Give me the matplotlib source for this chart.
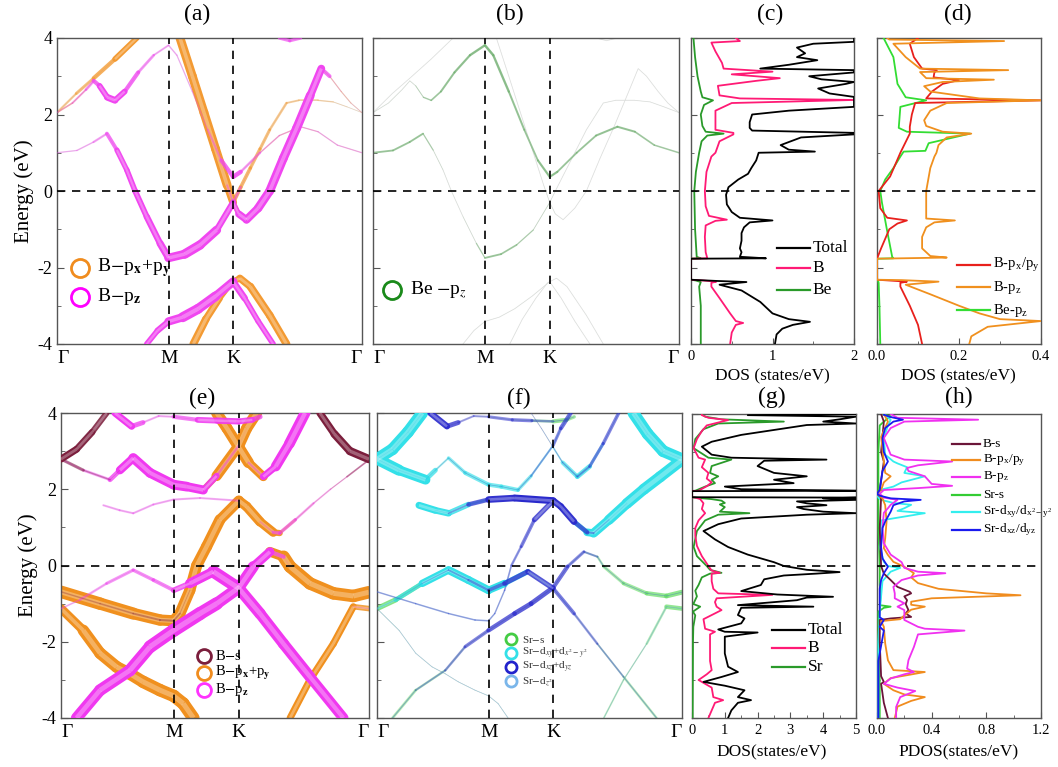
import numpy as np
import matplotlib
matplotlib.use("Agg")
import matplotlib.pyplot as plt
from matplotlib.collections import LineCollection
from matplotlib.colors import to_rgba
from matplotlib.ticker import MultipleLocator, FormatStrFormatter

plt.rcParams['font.family'] = ['Liberation Serif', 'DejaVu Serif']
plt.rcParams['mathtext.fontset'] = 'stix'
plt.rcParams['axes.unicode_minus'] = False

# ---------------- k-path ----------------
KPATH = [0.0, 0.5774, 0.9107, 1.5774]
KLAB = ['Γ', 'M', 'K', 'Γ']

# ---------------- bands for (a)/(b): (k, E, w_pxpy, w_pz, w_Be) ----------------
bandA = [(0, 2.05, .15, .1, .05), (0.08, 2.3, .15, .15, .05), (0.15, 2.65, .1, .2, .05),
         (0.19, 2.88, .05, .3, .05), (0.22, 2.75, 0, .45, .08), (0.26, 2.45, 0, .6, .2),
         (0.30, 2.37, 0, .6, .25), (0.35, 2.6, 0, .45, .3), (0.42, 3.1, 0, .3, .35),
         (0.50, 3.55, 0, .2, .35), (0.577, 3.81, 0, .15, .4), (0.62, 3.55, 0, .12, .4),
         (0.70, 2.6, 0, .12, .35), (0.78, 1.6, 0, .12, .3), (0.85, 0.8, 0, .25, .3),
         (0.911, 0.37, 0, .5, .4), (0.95, 0.5, 0, .3, .3), (1.05, 1.0, .1, .15, .3),
         (1.15, 1.45, .1, .12, .3), (1.26, 1.68, .1, .12, .35), (1.35, 1.55, .05, .12, .3),
         (1.45, 1.2, .05, .12, .25), (1.577, 1.0, .05, .12, .25)]
bandB = [(0, 1.0, 0, .12, .3), (0.103, 1.06, 0, .12, .3), (0.189, 1.28, 0, .15, .3),
         (0.258, 1.5, 0, .25, .3), (0.31, 1.07, 0, .45, .1), (0.361, 0.55, 0, .5, .05),
         (0.404, 0.0, 0, .5, .03), (0.464, -0.67, 0, .55, .03), (0.533, -1.37, 0, .6, .1),
         (0.577, -1.75, 0, .7, .3), (0.66, -1.65, 0, .85, .3), (0.74, -1.41, 0, .85, .25),
         (0.826, -1.02, .1, .75, .15), (0.911, -0.3, .35, .4, .05), (0.95, 0.1, .35, .05, .02),
         (1.0, 0.6, .3, 0, .02), (1.05, 1.1, .3, 0, .02), (1.1, 1.6, .25, 0, .02),
         (1.187, 2.3, .2, 0, .03), (1.25, 2.37, .15, 0, .03), (1.35, 2.37, .15, 0, .03),
         (1.428, 2.33, .1, 0, .03), (1.50, 2.2, .05, 0, .03), (1.577, 2.05, .05, 0, .03)]
bandC = [(0, 2.05, .15, 0, .02), (0.1, 2.55, .25, 0, .02), (0.19, 2.95, .3, 0, .02),
         (0.3, 3.45, .45, 0, .02), (0.413, 4.0, .55, 0, .02)]
bandD = [(0.636, 4.0, .8, 0, .02), (0.70, 3.0, .8, 0, .02), (0.76, 2.05, .8, 0, .02),
         (0.82, 1.1, .8, 0, .02), (0.88, 0.15, .8, .05, .03), (0.911, -0.3, .6, .3, .05),
         (0.94, -0.6, .2, .6, .03), (0.98, -0.75, .05, .7, .02), (1.04, -0.45, 0, .75, .02),
         (1.10, 0.0, 0, .8, .02), (1.17, 0.85, 0, .8, .02), (1.24, 1.65, 0, .8, .02),
         (1.31, 2.5, 0, .8, .02), (1.367, 3.2, .05, .6, .02), (1.41, 3.0, .1, .1, .02),
         (1.47, 2.6, .1, .05, .02), (1.52, 2.3, .1, .05, .02), (1.577, 2.05, .05, .05, .02)]
bandE = [(0.464, -4.0, 0, .5, .02), (0.52, -3.65, 0, .5, .02), (0.577, -3.41, 0, .6, .03),
         (0.65, -3.3, 0, .9, .03), (0.73, -3.08, 0, .9, .03), (0.82, -2.75, 0, .85, .03),
         (0.911, -2.37, 0, .7, .03), (0.97, -2.8, 0, .5, .02), (1.04, -3.4, 0, .5, .02),
         (1.118, -4.0, 0, .5, .02)]
bandF = [(0.705, -4.0, .7, 0, .02), (0.77, -3.35, .7, 0, .02), (0.84, -2.8, .6, 0, .02),
         (0.90, -2.4, .5, 0, .02), (0.946, -2.28, .6, 0, .02), (1.0, -2.5, .7, 0, .02),
         (1.10, -3.25, .7, 0, .02), (1.187, -4.0, .7, 0, .02)]
bandT = [(1.15, 4.0, 0, .3, .02), (1.204, 3.93, 0, .3, .02), (1.26, 4.0, 0, .3, .02)]
BANDS_AB = [bandA, bandB, bandC, bandD, bandE, bandF, bandT]

# ---------------- bands for (e)/(f): (k, E, Bs, pxpy, pz, Sr-s, dxy, dxz, dz2) ----------------
bandP1 = [(0.08, -4.0, 0, 0, .8, .2, .02, .05, .03), (0.2, -3.27, 0, 0, .85, .2, .02, .1, .03),
          (0.353, -2.75, 0, 0, .85, .15, .02, .15, .03), (0.456, -2.13, 0, 0, .9, .1, .02, .2, .03),
          (0.577, -1.7, 0, 0, .95, .05, .02, .3, .03), (0.712, -1.26, 0, 0, .95, .05, .02, .35, .03),
          (0.797, -1.0, 0, 0, .9, .05, .02, .35, .03), (0.911, -0.58, 0, .1, .8, .05, .02, .35, .03),
          (0.985, -0.03, 0, .2, .8, .05, .02, .25, .05), (1.07, 0.36, 0, .5, .5, .1, .02, .2, .1),
          (1.14, 0.23, 0, .9, .1, .15, .02, .1, .05), (1.173, -0.03, 0, .9, 0, .2, .02, .05, .03),
          (1.275, -0.47, 0, .9, 0, .25, .02, .05, .03), (1.395, -0.73, 0, .9, 0, .3, .02, .05, .03),
          (1.497, -0.8, 0, .9, 0, .35, .02, .05, .03), (1.577, -0.7, 0, .9, 0, .35, .02, .05, .03)]
bandP2 = [(0.0, -1.13, 0, 0, .1, .4, .1, .02, .03), (0.097, -0.9, 0, 0, .15, .35, .2, .02, .03),
          (0.234, -0.47, 0, 0, .2, .3, .45, .05, .03), (0.37, -0.12, 0, 0, .25, .2, .6, .1, .03),
          (0.473, -0.38, 0, 0, .25, .1, .55, .15, .03), (0.577, -0.65, 0, 0, .3, .05, .6, .2, .03),
          (0.66, -0.47, 0, 0, .5, .05, .45, .3, .03), (0.78, -0.16, 0, 0, .9, .05, .3, .4, .03),
          (0.911, -0.6, 0, 0, .85, .05, .1, .35, .03), (1.019, -1.26, 0, 0, .8, .05, .02, .2, .05),
          (1.139, -2.05, 0, 0, .8, .1, .02, .15, .05), (1.275, -2.92, 0, 0, .8, .15, .02, .1, .03),
          (1.446, -4.0, 0, 0, .7, .2, .02, .05, .03)]
bandO1 = [(0.0, -0.69, .1, .9, 0, .02, 0, .1, .1), (0.2, -1.0, .1, .9, 0, .02, 0, .1, .12),
          (0.37, -1.26, .12, .85, 0, .02, 0, .1, .12), (0.507, -1.43, .15, .8, 0, .02, 0, .1, .12),
          (0.577, -1.45, .15, .8, 0, .02, 0, .1, .12), (0.609, -1.26, .1, .8, 0, .02, 0, .1, .1),
          (0.66, -0.65, .02, .8, 0, .02, 0, .1, .1), (0.695, 0.0, 0, .8, 0, .02, 0, .15, .1),
          (0.746, 0.5, 0, .8, 0, .02, 0, .2, .1), (0.814, 1.2, 0, .8, 0, .02, 0, .3, .1),
          (0.911, 1.7, 0, .7, 0, .02, 0, .45, .1), (0.95, 1.55, 0, .7, 0, .02, .05, .5, .1),
          (1.019, 1.15, 0, .7, 0, .02, .2, .45, .05), (1.087, 0.87, 0, .6, .2, .02, .5, .2, .03),
          (1.12, 0.85, 0, .3, .3, .02, .6, .1, .03), (1.2, 1.2, 0, .1, .2, .02, .7, .05, .03),
          (1.293, 1.63, 0, .05, .15, .02, .75, 0, .03), (1.38, 2.0, 0, .05, .1, .02, .8, 0, .03),
          (1.465, 2.33, .05, .05, .1, .02, .8, 0, .03), (1.577, 2.77, .2, .05, .1, .02, .8, 0, .03)]
bandO2 = [(0.0, -1.13, 0, .5, 0, .05, .02, .02, .05), (0.114, -1.7, 0, .8, 0, .03, .02, .02, .05),
          (0.2, -2.3, 0, .85, 0, .03, .02, .02, .05), (0.285, -2.66, 0, .85, 0, .03, .02, .02, .05),
          (0.353, -2.84, 0, .85, 0, .03, .02, .02, .05), (0.42, -3.05, 0, .9, 0, .03, .02, .02, .05),
          (0.507, -3.27, 0, .9, 0, .03, .02, .02, .05), (0.577, -3.42, 0, .9, 0, .03, .02, .02, .05),
          (0.626, -3.62, 0, .9, 0, .03, .02, .02, .05), (0.678, -4.0, 0, .9, 0, .03, .02, .02, .05)]
bandO3 = [(1.173, -4.0, 0, .5, 0, .15, .02, .02, .05), (1.275, -3.0, 0, .5, 0, .1, .02, .02, .05),
          (1.395, -2.05, 0, .5, 0, .1, .02, .02, .05), (1.497, -1.08, 0, .5, 0, .25, .02, .02, .1),
          (1.577, -1.13, 0, .3, .15, .4, .02, .02, .05)]
bandU1 = [(0.0, 2.79, .3, 0, .1, .02, .8, .02, .03), (0.114, 2.5, .15, 0, .2, .02, .8, .02, .03),
          (0.251, 2.25, .05, 0, .2, .02, .6, .02, .03), (0.302, 2.5, 0, 0, .5, .02, .1, .02, .03),
          (0.37, 2.82, 0, 0, .7, .02, .2, .05, .05), (0.456, 2.43, 0, 0, .7, .02, .3, .05, .05),
          (0.577, 2.12, 0, 0, .7, .02, .3, .05, .05), (0.643, 2.07, 0, 0, .7, .02, .3, .05, .05),
          (0.729, 1.98, 0, .2, .6, .02, .3, .05, .05), (0.797, 2.35, 0, .7, .3, .02, .2, .1, .05),
          (0.911, 3.15, 0, .8, .05, .02, .1, .15, .05), (0.951, 3.6, 0, .8, 0, .02, .1, .3, .05),
          (1.002, 4.0, 0, .8, 0, .02, .1, .3, .05)]
bandU2 = [(0.797, 4.0, 0, .8, 0, .02, 0, .05, .03), (0.85, 3.6, 0, .8, 0, .02, 0, .05, .03),
          (0.911, 3.1, 0, .8, 0, .02, .05, .05, .03), (0.96, 2.7, 0, .8, 0, .02, .2, .1, .03),
          (1.036, 2.33, 0, .5, .3, .02, .4, .1, .03), (1.1, 2.6, 0, .1, .7, .02, .3, .2, .03),
          (1.17, 3.2, 0, 0, .75, .02, .1, .25, .03), (1.25, 4.0, 0, 0, .8, .02, .05, .25, .03)]
bandU3L = [(0.0, 2.79, .5, 0, .1, .02, .85, .02, .03), (0.08, 3.05, .5, 0, .1, .02, .85, .02, .03),
           (0.16, 3.5, .45, 0, .1, .02, .85, .02, .03), (0.234, 4.0, .4, 0, .1, .02, .85, .02, .03)]
bandU3R = [(1.326, 4.0, .5, 0, .1, .02, .85, .02, .03), (1.40, 3.45, .55, 0, .1, .02, .85, .02, .03),
           (1.48, 3.0, .6, 0, .1, .02, .85, .02, .03), (1.577, 2.79, .6, 0, .1, .02, .85, .02, .03)]
bandU4 = [(0.217, 1.58, 0, 0, .15, .02, .5, 0, .03), (0.30, 1.45, 0, 0, .15, .02, .5, 0, .03),
          (0.37, 1.37, 0, 0, .15, .02, .45, .05, .03), (0.473, 1.6, 0, 0, .15, .02, .35, .2, .03),
          (0.577, 1.73, 0, 0, .15, .02, .1, .45, .03), (0.712, 1.77, 0, 0, .15, .02, .05, .5, .03),
          (0.911, 1.7, 0, 0, .15, .02, .05, .5, .03)]
bandU5 = [(0.276, 4.0, 0, 0, .5, 0, 0, .4, .03), (0.362, 3.65, 0, 0, .5, 0, 0, .5, .03),
          (0.42, 3.75, 0, 0, .2, 0, 0, .2, .03), (0.5, 3.92, 0, 0, .1, 0, 0, .1, .03),
          (0.577, 3.9, 0, 0, .2, .05, 0, .2, .03), (0.7, 3.82, 0, 0, .4, .05, 0, .25, .03),
          (0.8, 3.8, 0, 0, .45, .1, 0, .25, .03), (0.911, 3.78, 0, 0, .45, .3, 0, .1, .03),
          (0.98, 3.82, 0, 0, .4, .3, 0, .05, .03), (1.02, 3.9, 0, 0, .3, .2, 0, .05, .03)]
BANDS_EF = [bandP1, bandP2, bandO1, bandO2, bandO3, bandU1, bandU2, bandU3L, bandU3R, bandU4, bandU5]

# ---------------- DOS (c): (E, DOS) ----------------
dosC_total = [(-4.0, 1.03), (-3.75, 1.05), (-3.6, 1.12), (-3.5, 1.25), (-3.42, 1.46), (-3.35, 1.2),
              (-3.2, 1.0), (-2.9, 0.85), (-2.6, 0.62), (-2.45, 0.35), (-2.38, 0.68), (-2.35, 0.3),
              (-2.32, 0.0), (-1.77, 0.0), (-1.76, 0.92), (-1.72, 0.6), (-1.6, 0.62), (-1.5, 0.6),
              (-1.3, 0.62), (-1.1, 0.62), (-0.95, 0.65), (-0.82, 0.72), (-0.77, 1.0), (-0.7, 0.6),
              (-0.55, 0.5), (-0.35, 0.44), (-0.1, 0.43), (0.1, 0.46), (0.3, 0.58), (0.45, 0.7),
              (0.6, 0.74), (0.8, 0.8), (1.0, 0.83), (1.03, 1.52), (1.08, 1.2), (1.2, 1.1),
              (1.4, 1.35), (1.48, 2.0), (1.52, 2.0), (1.58, 0.75), (1.65, 0.72), (1.8, 0.72),
              (2.0, 0.75), (2.1, 1.2), (2.2, 2.0), (2.24, 2.0), (2.35, 2.0), (2.46, 2.0),
              (2.55, 1.7), (2.68, 1.56), (2.8, 1.9), (2.85, 2.0), (2.92, 1.6), (3.0, 1.45),
              (3.1, 2.0), (3.16, 2.0), (3.2, 0.85), (3.3, 1.2), (3.42, 1.55), (3.5, 1.3),
              (3.6, 1.4), (3.75, 1.3), (3.85, 1.5), (3.9, 2.0), (4.0, 2.0)]
dosC_B = [(-4.0, 0.48), (-3.7, 0.5), (-3.5, 0.55), (-3.45, 0.64), (-3.4, 0.55), (-3.2, 0.48),
          (-2.8, 0.35), (-2.5, 0.25), (-2.4, 0.25), (-2.37, 0.31), (-2.34, 0.15), (-2.32, 0.0),
          (-1.77, 0.0), (-1.76, 0.2), (-1.6, 0.18), (-1.2, 0.17), (-0.9, 0.18), (-0.78, 0.3),
          (-0.75, 0.44), (-0.65, 0.22), (-0.4, 0.18), (0.0, 0.17), (0.5, 0.19), (0.9, 0.25),
          (1.0, 0.3), (1.3, 0.35), (1.48, 0.52), (1.52, 0.52), (1.6, 0.3), (1.9, 0.3),
          (2.1, 0.3), (2.3, 0.5), (2.38, 2.0), (2.42, 0.6), (2.5, 0.35), (2.75, 0.33),
          (2.88, 0.8), (2.95, 1.09), (3.05, 0.5), (3.12, 1.0), (3.2, 0.4), (3.35, 0.38),
          (3.65, 0.3), (3.88, 0.25), (3.92, 0.6), (4.0, 0.55)]
dosC_Be = [(-4.0, 0.12), (-3.0, 0.12), (-2.5, 0.1), (-2.38, 0.12), (-2.34, 0.06), (-2.32, 0.0),
           (-1.77, 0.0), (-1.76, 0.12), (-1.72, 0.07), (-1.0, 0.05), (0.0, 0.04), (0.5, 0.06),
           (1.0, 0.1), (1.3, 0.13), (1.45, 0.2), (1.5, 0.4), (1.55, 0.18), (1.7, 0.14),
           (2.0, 0.12), (2.25, 0.16), (2.37, 0.27), (2.45, 0.14), (2.6, 0.12), (3.0, 0.08),
           (3.5, 0.05), (4.0, 0.03)]

# ---------------- PDOS (d) ----------------
dosD_pxy = [(-4.0, 0.11), (-3.5, 0.1), (-3.0, 0.08), (-2.5, 0.057), (-2.4, 0.057), (-2.37, 0.073),
            (-2.34, 0.03), (-2.32, 0.0), (-1.77, 0.0), (-1.5, 0.01), (-1.0, 0.03), (-0.85, 0.05),
            (-0.77, 0.073), (-0.7, 0.025), (-0.45, 0.008), (0.0, 0.004), (0.38, 0.032),
            (1.0, 0.057), (1.5, 0.08), (1.68, 0.08), (2.0, 0.085), (2.3, 0.093), (2.37, 0.4),
            (2.42, 0.12), (2.6, 0.134), (2.8, 0.16), (2.9, 0.2), (2.97, 0.138), (3.1, 0.14),
            (3.16, 0.146), (3.2, 0.11), (3.5, 0.09), (3.85, 0.08), (4.0, 0.1)]
dosD_pz = [(-4.0, 0.225), (-3.8, 0.23), (-3.55, 0.27), (-3.4, 0.4), (-3.35, 0.3), (-3.2, 0.25),
           (-3.0, 0.2), (-2.7, 0.13), (-2.45, 0.07), (-2.37, 0.15), (-2.33, 0.06), (-2.32, 0.0),
           (-1.77, 0.0), (-1.74, 0.17), (-1.7, 0.13), (-1.6, 0.12), (-1.5, 0.11), (-1.2, 0.11),
           (-0.95, 0.12), (-0.82, 0.14), (-0.77, 0.19), (-0.72, 0.12), (-0.5, 0.12), (-0.2, 0.12),
           (0.0, 0.12), (0.3, 0.125), (0.6, 0.13), (0.9, 0.14), (1.0, 0.145), (1.2, 0.15),
           (1.4, 0.17), (1.5, 0.23), (1.55, 0.16), (1.7, 0.12), (1.85, 0.115), (2.1, 0.13),
           (2.3, 0.17), (2.37, 0.4), (2.42, 0.25), (2.6, 0.13), (2.74, 0.115), (2.85, 0.16),
           (2.91, 0.285), (2.95, 0.12), (3.11, 0.105), (3.16, 0.32), (3.2, 0.105), (3.5, 0.07),
           (3.85, 0.04), (3.92, 0.31), (3.96, 0.03), (4.0, 0.025)]
dosD_Be = [(-4.0, 0.008), (-3.0, 0.006), (-2.4, 0.004), (-2.33, 0.002), (-2.32, 0.0), (-1.77, 0.0),
           (-1.76, 0.04), (-1.72, 0.037), (-1.0, 0.024), (-0.3, 0.012), (0.0, 0.008), (0.3, 0.02),
           (0.6, 0.04), (0.9, 0.057), (1.03, 0.065), (1.05, 0.118), (1.25, 0.126), (1.5, 0.227),
           (1.55, 0.073), (1.65, 0.053), (2.2, 0.057), (2.37, 0.12), (2.45, 0.07), (2.8, 0.05),
           (3.5, 0.04), (4.0, 0.016)]

# ---------------- DOS (g) ----------------
dosG_total = [(-4.0, 1.1), (-3.8, 1.2), (-3.6, 1.4), (-3.53, 1.8), (-3.45, 1.4), (-3.27, 1.6),
              (-3.15, 1.0), (-3.05, 0.35), (-2.92, 0.9), (-2.79, 1.4), (-2.65, 1.1), (-2.3, 1.0),
              (-1.86, 1.0), (-1.75, 2.0), (-1.73, 1.0), (-1.67, 0.8), (-1.51, 1.5), (-1.38, 1.6),
              (-1.29, 1.4), (-1.1, 1.5), (-1.07, 3.7), (-1.03, 1.4), (-0.9, 3.2), (-0.83, 3.5),
              (-0.81, 4.3), (-0.75, 2.6), (-0.66, 1.5), (-0.5, 2.1), (-0.35, 2.2), (-0.25, 2.8),
              (-0.2, 3.8), (-0.16, 4.5), (-0.1, 3.5), (0.0, 2.8), (0.1, 2.5), (0.3, 1.7),
              (0.5, 1.1), (0.7, 0.7), (0.92, 0.35), (1.1, 0.8), (1.25, 1.5), (1.35, 3.5),
              (1.39, 5.0), (1.43, 4.0), (1.5, 3.4), (1.55, 3.2), (1.6, 4.1), (1.65, 3.5),
              (1.7, 3.2), (1.74, 5.0), (1.78, 4.0), (1.8, 5.0), (1.81, 0.0), (1.97, 0.0),
              (1.98, 5.0), (2.02, 1.5), (2.09, 1.0), (2.18, 3.1), (2.27, 2.5), (2.36, 3.5),
              (2.45, 2.5), (2.63, 2.0), (2.77, 2.2), (2.8, 4.1), (2.85, 1.2), (2.93, 0.6),
              (3.14, 0.3), (3.27, 0.6), (3.45, 1.5), (3.58, 2.5), (3.71, 3.5), (3.75, 5.0),
              (3.8, 4.0), (3.86, 4.5), (3.93, 5.0), (3.97, 1.7), (4.0, 5.0)]
dosG_B = [(-4.0, 0.5), (-3.8, 0.6), (-3.6, 0.7), (-3.53, 0.95), (-3.45, 0.65), (-3.2, 0.6),
          (-3.0, 0.2), (-2.85, 0.45), (-2.74, 0.6), (-2.5, 0.55), (-1.8, 0.55), (-1.73, 0.7),
          (-1.65, 0.4), (-1.4, 0.35), (-1.16, 0.9), (-1.07, 0.75), (-0.95, 0.7), (-0.85, 0.75),
          (-0.76, 2.45), (-0.72, 0.8), (-0.6, 0.65), (-0.4, 0.6), (-0.2, 0.6), (-0.18, 0.85),
          (-0.12, 0.6), (0.0, 0.5), (0.26, 0.3), (0.53, 0.15), (0.8, 0.1), (1.0, 0.1),
          (1.2, 0.2), (1.39, 0.4), (1.5, 0.3), (1.65, 0.35), (1.76, 0.25), (1.8, 0.1),
          (1.81, 0.0), (1.97, 0.0), (1.98, 0.2), (2.1, 0.45), (2.2, 0.6), (2.3, 0.45),
          (2.45, 0.5), (2.6, 0.3), (2.8, 0.4), (2.85, 0.2), (3.1, 0.05), (3.34, 0.15),
          (3.55, 0.3), (3.7, 0.45), (3.84, 1.1), (3.9, 0.5), (3.97, 0.3), (4.0, 0.3)]
dosG_Sr = [(-4.0, 0.02), (-2.0, 0.03), (-1.6, 0.04), (-1.3, 0.1), (-1.2, 0.03), (-1.07, 0.25),
           (-1.0, 0.04), (-0.8, 0.15), (-0.65, 0.1), (-0.5, 0.2), (-0.3, 0.3), (-0.2, 0.55),
           (-0.18, 0.9), (-0.1, 0.55), (0.0, 0.45), (0.26, 0.15), (0.5, 0.05), (0.92, 0.15),
           (1.2, 0.4), (1.35, 0.8), (1.39, 1.75), (1.43, 0.85), (1.55, 1.0), (1.62, 0.85),
           (1.66, 1.0), (1.72, 0.9), (1.76, 0.6), (1.8, 0.1), (1.81, 0.0), (1.97, 0.0),
           (1.98, 0.1), (2.09, 0.4), (2.18, 0.7), (2.27, 0.6), (2.36, 0.8), (2.45, 0.55),
           (2.63, 0.6), (2.8, 1.2), (2.85, 0.5), (3.1, 0.05), (3.34, 0.1), (3.6, 0.35),
           (3.75, 0.8), (3.8, 2.8), (3.86, 0.9), (3.93, 0.4), (4.0, 0.3)]

# ---------------- PDOS (h) ----------------
dosH_Bs = [(-4.0, 0.08), (-3.6, 0.05), (-3.1, 0.03), (-3.05, 0.05), (-2.9, 0.03), (-2.0, 0.02),
           (-1.42, 0.02), (-1.38, 0.1), (-1.34, 0.25), (-1.25, 0.21), (-1.16, 0.23), (-1.0, 0.21),
           (-0.9, 0.22), (-0.8, 0.2), (-0.72, 0.25), (-0.68, 0.24), (-0.55, 0.15), (-0.37, 0.1),
           (-0.2, 0.05), (0.0, 0.03), (1.0, 0.02), (1.8, 0.03), (1.9, 0.0), (2.0, 0.02),
           (2.5, 0.04), (2.75, 0.05), (3.0, 0.03), (3.8, 0.05), (4.0, 0.03)]
dosH_pxy = [(-4.0, 0.13), (-3.7, 0.15), (-3.55, 0.25), (-3.45, 0.35), (-3.38, 0.2), (-3.27, 0.12),
            (-3.1, 0.05), (-2.95, 0.1), (-2.79, 0.35), (-2.74, 0.12), (-2.48, 0.08), (-2.04, 0.06),
            (-1.6, 0.05), (-1.45, 0.03), (-1.4, 0.17), (-1.3, 0.2), (-1.15, 0.25), (-1.07, 0.35),
            (-1.02, 0.25), (-0.94, 0.25), (-0.85, 0.4), (-0.77, 1.05), (-0.72, 0.8), (-0.6, 0.45),
            (-0.45, 0.3), (-0.3, 0.25), (-0.19, 0.27), (-0.02, 0.2), (0.11, 0.12), (0.29, 0.08),
            (0.47, 0.05), (0.73, 0.06), (1.17, 0.07), (1.6, 0.06), (1.78, 0.04), (1.9, 0.0),
            (2.0, 0.03), (2.2, 0.05), (2.36, 0.1), (2.45, 0.06), (2.75, 0.05), (3.4, 0.03),
            (3.8, 0.08), (4.0, 0.05)]
dosH_pz = [(-4.0, 0.14), (-3.71, 0.14), (-3.45, 0.17), (-3.29, 0.28), (-3.2, 0.15), (-3.1, 0.05),
           (-2.96, 0.1), (-2.85, 0.2), (-2.79, 0.27), (-2.7, 0.22), (-2.48, 0.23), (-2.13, 0.27),
           (-1.8, 0.3), (-1.7, 0.64), (-1.65, 0.35), (-1.6, 0.3), (-1.42, 0.2), (-1.16, 0.2),
           (-1.07, 0.15), (-0.98, 0.2), (-0.85, 0.13), (-0.72, 0.13), (-0.55, 0.12), (-0.37, 0.18),
           (-0.25, 0.3), (-0.19, 0.5), (-0.15, 0.3), (-0.05, 0.2), (0.1, 0.18), (0.3, 0.1),
           (0.6, 0.05), (1.0, 0.04), (1.4, 0.05), (1.52, 0.08), (1.61, 0.1), (1.74, 0.15),
           (1.8, 0.05), (1.9, 0.02), (2.0, 0.05), (2.05, 0.3), (2.11, 0.55), (2.16, 0.4),
           (2.36, 0.35), (2.5, 0.23), (2.58, 0.22), (2.65, 0.3), (2.75, 0.55), (2.8, 0.2),
           (2.93, 0.1), (3.37, 0.05), (3.63, 0.1), (3.8, 0.2), (3.85, 0.74), (3.9, 0.15),
           (4.0, 0.1)]
dosH_Srs = [(-4.0, 0.02), (-3.0, 0.02), (-2.0, 0.01), (-1.2, 0.01), (-1.1, 0.05), (-1.07, 0.1),
            (-1.03, 0.02), (-0.72, 0.03), (-0.5, 0.02), (0.0, 0.02), (1.0, 0.01), (1.8, 0.01),
            (1.9, 0.0), (2.0, 0.01), (3.0, 0.01), (3.7, 0.02), (3.8, 0.05), (3.94, 0.1), (4.0, 0.03)]
dosH_dxy = [(-4.0, 0.01), (-2.0, 0.01), (-1.2, 0.02), (-0.8, 0.03), (-0.4, 0.04), (-0.15, 0.1),
            (-0.05, 0.17), (0.0, 0.08), (0.11, 0.05), (0.5, 0.02), (1.2, 0.03), (1.39, 0.35),
            (1.45, 0.15), (1.52, 0.2), (1.61, 0.25), (1.66, 0.12), (1.74, 0.03), (1.8, 0.01),
            (1.9, 0.0), (2.0, 0.02), (2.09, 0.12), (2.2, 0.18), (2.36, 0.35), (2.45, 0.2),
            (2.6, 0.22), (2.7, 0.15), (2.75, 0.12), (2.93, 0.06), (3.37, 0.05), (3.7, 0.08),
            (3.85, 0.1), (4.0, 0.05)]
dosH_dxz = [(-4.0, 0.01), (-2.5, 0.01), (-1.7, 0.05), (-1.6, 0.02), (-1.42, 0.05), (-1.35, 0.02),
            (-0.6, 0.02), (-0.37, 0.03), (-0.19, 0.05), (-0.02, 0.08), (0.2, 0.04), (0.5, 0.03),
            (1.0, 0.04), (1.17, 0.06), (1.43, 0.1), (1.6, 0.12), (1.7, 0.2), (1.74, 0.32),
            (1.78, 0.1), (1.85, 0.02), (1.9, 0.0), (2.0, 0.02), (2.5, 0.04), (2.75, 0.08),
            (3.0, 0.05), (3.37, 0.04), (3.63, 0.06), (3.8, 0.12), (3.85, 0.19), (3.92, 0.1),
            (3.98, 0.05), (4.0, 0.05)]

# ---------------- figure ----------------
W, H = 1058, 767
fig = plt.figure(figsize=(W / 100, H / 100), dpi=100)


def add_ax(x0, y0, x1, y1):
    return fig.add_axes([x0 / W, 1 - y1 / H, (x1 - x0) / W, (y1 - y0) / H])


SPINE = '#555555'
DASH = (0, (5, 4))


def frame(ax):
    for s in ax.spines.values():
        s.set_color(SPINE)
        s.set_linewidth(1.0)


def fat(ax, band, col, color, maxw, z):
    k = [p[0] for p in band]
    e = [p[1] for p in band]
    w = [p[col] for p in band]
    segs = [[(k[i], e[i]), (k[i + 1], e[i + 1])] for i in range(len(k) - 1)]
    wav = [(w[i] + w[i + 1]) / 2 for i in range(len(k) - 1)]
    lws = [maxw * a for a in wav]
    rgb = to_rgba(color)
    cols = [(rgb[0], rgb[1], rgb[2], min(1.0, 0.15 + 1.7 * a)) for a in wav]
    ax.add_collection(LineCollection(segs, linewidths=lws, colors=cols, capstyle='round',
                                     joinstyle='round', zorder=z))
    # lighter core to mimic the open-circle ribbons
    core = [0.4 * l if l > 3.5 else 0 for l in lws]
    ax.add_collection(LineCollection(segs, linewidths=core, colors=[(1, 1, 1, 0.3)] * len(segs),
                                     capstyle='butt', joinstyle='round', zorder=z + 0.5))


def band_panel(ax, bands, proj, maxw, ylab):
    for b in bands:
        ax.plot([p[0] for p in b], [p[1] for p in b], color='#e2e2e2', lw=0.6, zorder=1)
    z = 2
    for col, color in proj:
        for b in bands:
            fat(ax, b, col, color, maxw, z)
        z += 1
    ax.set_xlim(KPATH[0], KPATH[-1])
    ax.set_ylim(-4, 4)
    ax.set_xticks(KPATH)
    ax.set_xticklabels(KLAB, fontsize=14)
    tl = ax.get_xticklabels()
    tl[0].set_ha('left')
    tl[-1].set_ha('right')
    ax.tick_params(axis='x', length=0, pad=4)
    ax.yaxis.set_major_locator(MultipleLocator(2))
    ax.yaxis.set_minor_locator(MultipleLocator(1))
    ax.tick_params(axis='y', which='major', direction='in', length=5, labelsize=13,
                   labelleft=ylab, color=SPINE)
    ax.tick_params(axis='y', which='minor', direction='in', length=3, color=SPINE)
    for x in KPATH[1:3]:
        ax.axvline(x, color='k', ls=DASH, lw=1.2, zorder=10)
    ax.axhline(0, color='k', ls=DASH, lw=1.2, zorder=10)
    if ylab:
        ax.set_ylabel('Energy (eV)', fontsize=15, labelpad=2)
    frame(ax)


def dos_panel(ax, curves, xmax, major, minor, fmt):
    for data, color in curves:
        e = [p[0] for p in data]
        d = [p[1] for p in data]
        ax.plot(d, e, color=color, lw=1.3, zorder=3)
    ax.set_xlim(0, xmax)
    ax.set_ylim(-4, 4)
    ax.xaxis.set_major_locator(MultipleLocator(major))
    ax.xaxis.set_minor_locator(MultipleLocator(minor))
    ax.xaxis.set_major_formatter(FormatStrFormatter(fmt))
    ax.yaxis.set_major_locator(MultipleLocator(2))
    ax.yaxis.set_minor_locator(MultipleLocator(1))
    ax.tick_params(axis='both', which='major', direction='in', length=4, labelsize=10.5,
                   labelleft=False, pad=4, color=SPINE)
    ax.tick_params(axis='both', which='minor', direction='in', length=2, color=SPINE)
    ax.axhline(0, color='k', ls=DASH, lw=1.2, zorder=10)
    frame(ax)


def circle_legend(ax, items, x, ys, tx, ms, fs, tcolor='k'):
    for (lab, col), y in zip(items, ys):
        ax.plot([x], [y], marker='o', ms=ms, mfc='none', mec=col, mew=2,
                transform=ax.transAxes, clip_on=False, zorder=20)
        ax.text(tx, y, lab, transform=ax.transAxes, fontsize=fs, va='center', ha='left',
                color=tcolor, zorder=20)


def line_legend(ax, items, x0, x1, ys, tx, fs):
    for (lab, col), y in zip(items, ys):
        ax.plot([x0, x1], [y, y], color=col, lw=1.6, transform=ax.transAxes,
                clip_on=False, zorder=20)
        ax.text(tx, y, lab, transform=ax.transAxes, fontsize=fs, va='center', ha='left',
                zorder=20)


ORANGE = '#f39a32'
MAGENTA = '#f046f0'
BE_GREEN = '#70b070'

# (a)
axa = add_ax(57, 38, 362, 344)
band_panel(axa, BANDS_AB, [(2, ORANGE), (3, MAGENTA)], 8.0, True)
circle_legend(axa, [(r'B$-$p$_{\mathbf{x}}$+p$_{\mathbf{y}}$', '#f08c1e'),
                    (r'B$-$p$_{\mathbf{z}}$', '#ff00ff')],
              0.075, [0.25, 0.155], 0.13, 13, 14)

# (b)
axb = add_ax(373, 38, 679, 344)
band_panel(axb, BANDS_AB, [(4, BE_GREEN)], 4.5, False)
circle_legend(axb, [(r'Be $-$p$_{z}$', '#1a8a1a')], 0.062, [0.176], 0.12, 13, 14)

# (c)
axc = add_ax(691, 38, 854, 344)
dos_panel(axc, [(dosC_Be, '#2a9a2a'), (dosC_B, '#ff1a75'), (dosC_total, 'k')], 2, 1, 0.5, '%d')
line_legend(axc, [('Total', 'k'), ('B', '#ff1a75'), ('Be', '#2a9a2a')],
            0.528, 0.73, [0.314, 0.248, 0.176], 0.745, 12.5)

# (d)
axd = add_ax(877, 38, 1041, 344)
dos_panel(axd, [(dosD_Be, '#33dd33'), (dosD_pxy, '#e8201c'), (dosD_pz, '#f0901e')],
          0.4, 0.2, 0.1, '%.1f')
line_legend(axd, [(r'B-p$_\mathregular{x}$/p$_\mathregular{y}$', '#e8201c'),
                  (r'B-p$_\mathregular{z}$', '#f0901e'),
                  (r'Be-p$_\mathregular{z}$', '#33dd33')],
            0.488, 0.689, [0.258, 0.186, 0.111], 0.707, 10.5)

# (e)
axe = add_ax(61, 413, 369, 718)
band_panel(axe, BANDS_EF, [(3, '#f0901e'), (4, '#f038f0'), (2, '#7b1e3c')], 10.0, True)
circle_legend(axe, [(r'B$-$s', '#7b1e3c'),
                    (r'B$-$p$_{\mathbf{x}}$+p$_{\mathbf{y}}$', '#f08c1e'),
                    (r'B$-$p$_{\mathbf{z}}$', '#ff33ff')],
              0.464, [0.203, 0.148, 0.092], 0.5, 10, 10.5)

# (f)
axf = add_ax(377, 413, 682, 718)
band_panel(axf, BANDS_EF, [(5, '#66dd66'), (8, '#7ab6ea'), (6, '#33e0e8'), (7, '#2a2acc')],
           10.0, False)
circle_legend(axf, [(r'Sr$-$s', '#44cc44'),
                    (r'Sr$-$d$_{xy}$+d$_{x^2-y^2}$', '#33e0e8'),
                    (r'Sr$-$d$_{xz}$+d$_{yz}$', '#2222cc'),
                    (r'Sr$-$d$_{z^2}$', '#7ab6ea')],
              0.44, [0.258, 0.212, 0.166, 0.12], 0.475, 8, 8, tcolor='#333333')

# (g)
axg = add_ax(692, 414, 856, 718)
dos_panel(axg, [(dosG_Sr, '#2a9a2a'), (dosG_B, '#ff1a75'), (dosG_total, 'k')], 5, 1, 0.5, '%d')
line_legend(axg, [('Total', 'k'), ('B', '#ff1a75'), ('Sr', '#2a9a2a')],
            0.488, 0.689, [0.289, 0.23, 0.168], 0.707, 12.5)

# (h)
axh = add_ax(877, 414, 1041, 718)
dos_panel(axh, [(dosH_Srs, '#33cc33'), (dosH_dxy, '#33eeee'), (dosH_Bs, '#6b1538'),
                (dosH_pxy, '#f08c1e'), (dosH_pz, '#f030f0'), (dosH_dxz, '#1a1aee')],
          1.2, 0.4, 0.2, '%.1f')
line_legend(axh, [('B-s', '#6b1538'),
                  (r'B-p$_\mathregular{x}$/p$_\mathregular{y}$', '#f08c1e'),
                  (r'B-p$_\mathregular{z}$', '#f030f0'),
                  ('Sr-s', '#33cc33'),
                  (r'Sr-d$_\mathregular{xy}$/d$_\mathregular{x^2-y^2}$', '#33eeee'),
                  (r'Sr-d$_\mathregular{xz}$/d$_\mathregular{yz}$', '#1a1aee')],
            0.457, 0.628, [0.901, 0.849, 0.793, 0.734, 0.678, 0.618], 0.646, 9.5)

# titles and x labels
for lab, x, y in [('(a)', 197, 14), ('(b)', 510, 14), ('(c)', 770, 14), ('(d)', 958, 14),
                  ('(e)', 202, 398), ('(f)', 519, 398), ('(g)', 772, 397), ('(h)', 959, 397)]:
    fig.text(x / W, 1 - y / H, lab, ha='center', va='center', fontsize=17)
for lab, x, y in [('DOS (states/eV)', 772, 376), ('DOS (states/eV)', 958, 376),
                  ('DOS(states/eV)', 772, 752), ('PDOS(states/eV)', 959, 752)]:
    fig.text(x / W, 1 - y / H, lab, ha='center', va='center', fontsize=12.5)

fig.savefig('out.png', dpi=100)
